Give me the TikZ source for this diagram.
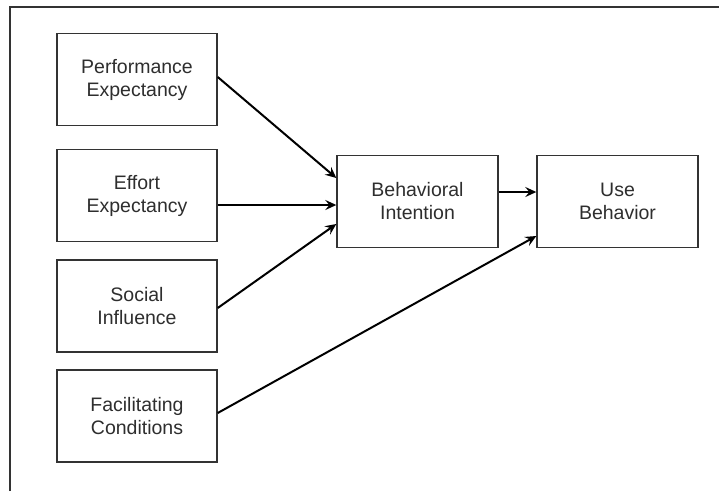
\documentclass[tikz,border=0pt]{standalone}
\usepackage{fontspec}
\setmainfont{Liberation Sans}
\usetikzlibrary{arrows.meta}
\definecolor{txt}{HTML}{2E2E2E}
\definecolor{edge}{HTML}{333333}
\tikzset{
  box/.style={draw=edge, line width=1.4pt, fill=white, minimum width=160pt, minimum height=92pt,
    inner sep=0pt, align=center, text=txt, font=\fontsize{19.5}{23}\selectfont},
  arr/.style={draw=black, line width=2pt, -{Stealth[length=11pt,width=10pt,inset=4pt]}},
  frameline/.style={draw=edge, line width=1.4pt}
}
\begin{document}
\begin{tikzpicture}[x=1pt,y=-1pt]
\useasboundingbox (0,0) rectangle (719,491);
\fill[white] (0,0) rectangle (719,491);
\draw[frameline] (10,491) -- (10,7) -- (719,7);
\node[box] (P) at (137,79.5) {Performance\\Expectancy};
\node[box] (E) at (137,195.5) {Effort\\Expectancy};
\node[box] (S) at (137,306) {Social\\Influence};
\node[box] (F) at (137,416) {Facilitating\\Conditions};
\node[box, minimum width=161pt] (BI) at (417.5,201.5) {Behavioral\\Intention};
\node[box, minimum width=161pt] (U) at (617.5,201.5) {Use\\Behavior};
\draw[arr] ([yshift=2.5pt]P.east) -- ([yshift=23.5pt]BI.west);
\draw[arr] ([yshift=-9.5pt]E.east) -- ([yshift=-3.5pt]BI.west);
\draw[arr] ([yshift=-2pt]S.east) -- ([yshift=-22.5pt]BI.west);
\draw[arr] ([yshift=3pt]F.east) -- ([yshift=-34.5pt]U.west);
\draw[arr] ([yshift=9.5pt]BI.east) -- ([yshift=9.5pt]U.west);
\end{tikzpicture}
\end{document}
